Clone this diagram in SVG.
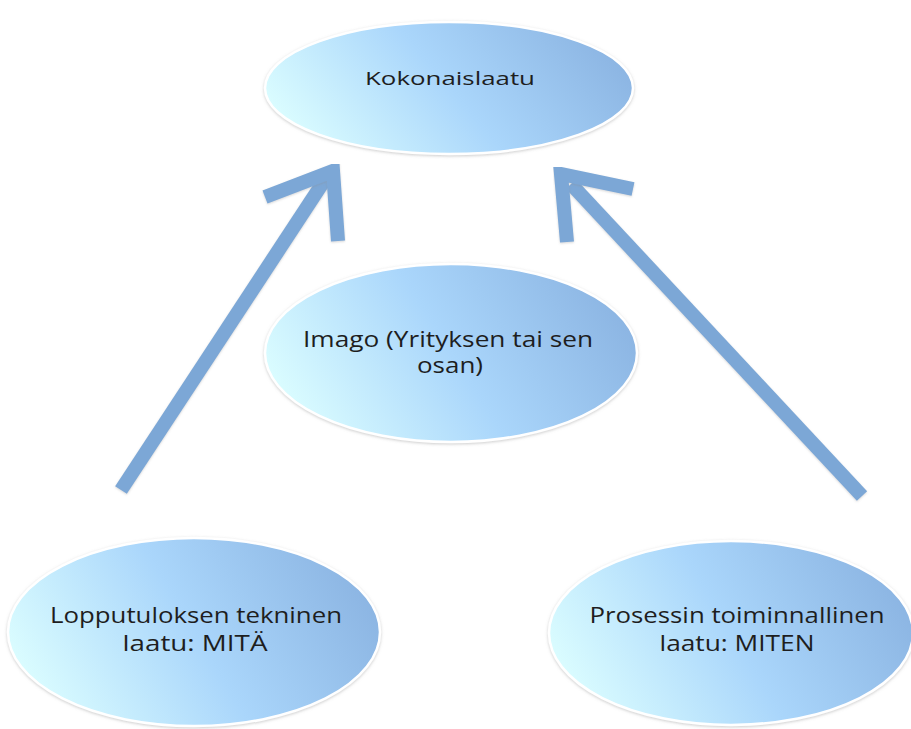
<svg xmlns="http://www.w3.org/2000/svg" width="911" height="729" viewBox="0 0 911 729">
<style>
.node ellipse{fill:url(#g);stroke:#ffffff;stroke-width:2.5;filter:url(#sh)}
.node text{font-family:"Open Sans","Noto Sans",sans-serif;font-weight:500;fill:#1e1e1e;text-anchor:middle;font-size:21px}
.conn path{fill:none;stroke:#7ba7d6;stroke-width:14;stroke-linejoin:miter;stroke-linecap:butt;filter:url(#sh2)}
</style>
<defs>
<linearGradient id="g" x1="0" y1="0.65" x2="1" y2="0.35">
<stop offset="0" stop-color="#dcfeff"/>
<stop offset="0.5" stop-color="#aad6fb"/>
<stop offset="1" stop-color="#8bb4e2"/>
</linearGradient>
<filter id="sh" x="-10%" y="-10%" width="120%" height="120%">
<feDropShadow dx="0" dy="1" stdDeviation="1.5" flood-color="#9a9a9a" flood-opacity="0.5"/>
</filter>
<filter id="sh2" x="-10%" y="-10%" width="120%" height="120%">
<feDropShadow dx="0" dy="1" stdDeviation="1" flood-color="#8a8a8a" flood-opacity="0.35"/>
</filter>
</defs>
<rect width="911" height="729" fill="#ffffff"/>
<g class="conn" id="connectors">
<path d="M121,490 L326,178"/>
<path d="M265,197 L333,171 L338,241"/>
<path d="M862,496 L571,184"/>
<path d="M633,189 L561,174 L567,242"/>
</g>
<g class="node" id="kokonaislaatu">
<ellipse cx="449" cy="88" rx="184" ry="66"/>
<text x="450" y="85" style="font-size:18px" textLength="170" lengthAdjust="spacingAndGlyphs">Kokonaislaatu</text>
</g>
<g class="node" id="imago">
<ellipse cx="451" cy="353" rx="186" ry="89"/>
<text x="448" y="347" textLength="290" lengthAdjust="spacingAndGlyphs">Imago (Yrityksen tai sen</text>
<text x="450" y="373" textLength="66" lengthAdjust="spacingAndGlyphs">osan)</text>
</g>
<g class="node" id="lopputulos">
<ellipse cx="194" cy="632" rx="186" ry="94"/>
<text x="196" y="623" textLength="292" lengthAdjust="spacingAndGlyphs">Lopputuloksen tekninen</text>
<text x="195" y="651" textLength="145" lengthAdjust="spacingAndGlyphs">laatu: MITÄ</text>
</g>
<g class="node" id="prosessi">
<ellipse cx="731" cy="633" rx="182" ry="92"/>
<text x="737" y="623" textLength="295" lengthAdjust="spacingAndGlyphs">Prosessin toiminnallinen</text>
<text x="737" y="651" textLength="155" lengthAdjust="spacingAndGlyphs">laatu: MITEN</text>
</g>
</svg>
